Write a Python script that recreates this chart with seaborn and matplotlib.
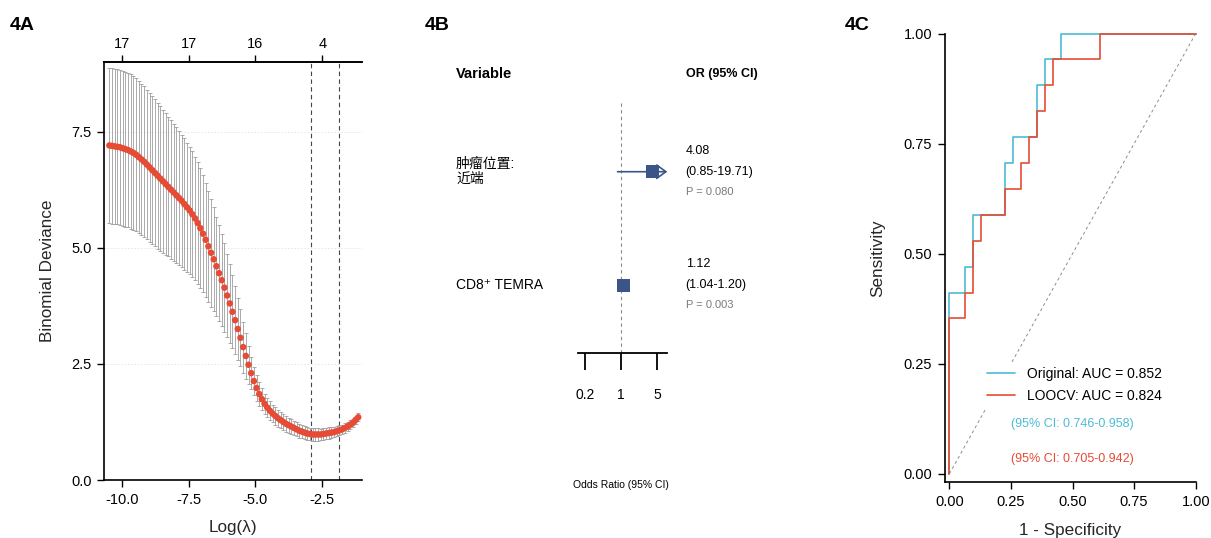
import numpy as np
import pandas as pd
import matplotlib
matplotlib.use("Agg")
import matplotlib.pyplot as plt
import matplotlib.transforms as mtransforms
import seaborn as sns

# ---------------- 4A: 10-fold CV deviance along the LASSO path ----------------
cv_mean = [
    7.20, 7.19, 7.18, 7.17, 7.16, 7.14, 7.12, 7.10, 7.07, 7.04,
    7.00, 6.95, 6.90, 6.85, 6.79, 6.73, 6.67, 6.61, 6.55, 6.49,
    6.43, 6.37, 6.31, 6.25, 6.19, 6.13, 6.07, 6.01, 5.94, 5.87,
    5.80, 5.72, 5.63, 5.53, 5.42, 5.30, 5.17, 5.03, 4.89, 4.75,
    4.60, 4.45, 4.30, 4.14, 3.97, 3.80, 3.62, 3.44, 3.25, 3.06,
    2.86, 2.67, 2.48, 2.30, 2.13, 1.98, 1.85, 1.74, 1.64, 1.56,
    1.49, 1.43, 1.38, 1.33, 1.29, 1.25, 1.21, 1.18, 1.15, 1.12,
    1.09, 1.06, 1.04, 1.02, 1.00, 0.99, 0.98, 0.98, 0.98, 0.98,
    0.99, 1.00, 1.01, 1.02, 1.03, 1.05, 1.07, 1.09, 1.12, 1.15,
    1.19, 1.23, 1.29, 1.35,
]
cv_se = [
    1.67, 1.67, 1.67, 1.67, 1.67, 1.67, 1.67, 1.66, 1.66, 1.66,
    1.65, 1.64, 1.63, 1.62, 1.61, 1.60, 1.59, 1.58, 1.57, 1.56,
    1.54, 1.52, 1.50, 1.49, 1.47, 1.46, 1.44, 1.42, 1.41, 1.39,
    1.37, 1.35, 1.33, 1.31, 1.29, 1.26, 1.23, 1.20, 1.16, 1.12,
    1.07, 1.03, 0.99, 0.95, 0.90, 0.85, 0.79, 0.73, 0.67, 0.61,
    0.55, 0.49, 0.41, 0.35, 0.31, 0.28, 0.26, 0.24, 0.22, 0.21,
    0.20, 0.19, 0.19, 0.18, 0.18, 0.17, 0.17, 0.16, 0.16, 0.15,
    0.15, 0.15, 0.14, 0.14, 0.14, 0.13, 0.13, 0.13, 0.13, 0.12,
    0.12, 0.12, 0.12, 0.11, 0.11, 0.11, 0.11, 0.10, 0.10, 0.10,
    0.10, 0.09, 0.09, 0.09,
]
log_lambda_first = -10.46
log_lambda_step = 0.10
log_lambda_min = -2.92
log_lambda_1se = -1.89
x_ticks_a = [-10.0, -7.5, -5.0, -2.5]
n_nonzero_labels = ["17", "17", "16", "4"]
y_ticks_a = [0.0, 2.5, 5.0, 7.5]

# ---------------- 4B: multivariable logistic regression ----------------
variables = ["肿瘤位置:\n近端", "CD8⁺ TEMRA"]
odds_ratio = [4.08, 1.12]
ci_lower = [0.85, 1.04]
ci_upper = [19.71, 1.20]
p_values = ["0.080", "0.003"]
or_ticks = [0.2, 1, 5]
or_tick_labels = ["0.2", "1", "5"]

# ---------------- 4C: ROC curves (counts of FP / TP at each step) ----------------
n_negative, n_positive = 31, 17
orig_fp = [0, 0, 2, 2, 3, 3, 7, 7, 8, 8, 11, 11, 12, 12, 14, 14, 31]
orig_tp = [0, 7, 7, 8, 8, 10, 10, 12, 12, 13, 13, 15, 15, 16, 16, 17, 17]
loocv_fp = [0, 0, 2, 2, 3, 3, 4, 4, 7, 7, 9, 9, 10, 10, 11, 11, 12, 12, 13, 13, 19, 19, 31]
loocv_tp = [0, 6, 6, 7, 7, 9, 9, 10, 10, 11, 11, 12, 12, 13, 13, 14, 14, 15, 15, 16, 16, 17, 17]
auc_values = {"Original": 0.852, "LOOCV": 0.824}
auc_ci = {"Original": (0.746, 0.958), "LOOCV": (0.705, 0.942)}
roc_ticks = [0.0, 0.25, 0.5, 0.75, 1.0]

RED = "#E64B35"
BLUE = "#4DBBD5"
NAVY = "#3C5488"

sns.set_theme(style="white")
plt.rcParams["font.family"] = ["Liberation Sans", "DejaVu Sans", "Noto Sans CJK SC"]
plt.rcParams["axes.edgecolor"] = "black"
plt.rcParams["text.color"] = "black"
plt.rcParams["xtick.color"] = "black"
plt.rcParams["ytick.color"] = "black"

W, H = 1211, 538
fig = plt.figure(figsize=(W / 100, H / 100), dpi=100)


def fx(px):
    return px / W


def fy(py):
    return 1 - py / H


def axes_rect(left, top, right, bottom):
    return [fx(left), fy(bottom), fx(right) - fx(left), fy(top) - fy(bottom)]


# ======================= 4A =======================
axA = fig.add_axes(axes_rect(104.3, 61.8, 361.7, 480))
log_lambda = log_lambda_first + log_lambda_step * np.arange(len(cv_mean))
cv_df = pd.DataFrame({"loglam": log_lambda, "deviance": cv_mean, "se": cv_se})

axA.set_axisbelow(True)
axA.yaxis.grid(True, color="#e4e4e4", linestyle=(0, (2, 2)), linewidth=0.6)
axA.errorbar(cv_df["loglam"], cv_df["deviance"], yerr=cv_df["se"], fmt="none",
             ecolor="#9c9c9c", elinewidth=0.6, capsize=1.1, capthick=0.6, zorder=2)
sns.scatterplot(data=cv_df, x="loglam", y="deviance", color=RED, s=22,
                edgecolor="none", linewidth=0, ax=axA, zorder=3)
for v in (log_lambda_min, log_lambda_1se):
    axA.axvline(v, color="#444444", linestyle=(0, (4, 3)), linewidth=0.8, zorder=1)

axA.set_xlim(-10.65, -1.03)
axA.set_ylim(0, 9.0)
axA.set_xticks(x_ticks_a, labels=[f"{t:.1f}" for t in x_ticks_a])
axA.set_yticks(y_ticks_a, labels=[f"{t:.1f}" for t in y_ticks_a])
axA.tick_params(axis="both", direction="out", length=5, width=1.0, labelsize=10.5,
                pad=4, bottom=True, left=True)
for s in ("left", "bottom", "top"):
    axA.spines[s].set_linewidth(1.2)
axA.spines["right"].set_visible(False)
axA.set_xlabel("Log(λ)", fontsize=12.3, labelpad=10)
axA.set_ylabel("Binomial Deviance", fontsize=12.3, labelpad=12)

topA = axA.secondary_xaxis("top")
topA.set_xticks(x_ticks_a, labels=n_nonzero_labels)
topA.tick_params(direction="out", length=5, width=1.0, labelsize=10.5, pad=3, top=True)
topA.spines["top"].set_linewidth(1.2)

fig.text(fx(10), fy(25), "4A", fontsize=14, fontweight="bold", va="center", ha="left")

# ======================= 4B =======================
axB = fig.add_axes(axes_rect(578, 103, 667.3, 353))
axB.set_xscale("log")
axB.set_xlim(0.146, 7.82)
axB.set_ylim(0.404, 2.605)
row_y = [2, 1]
forest_df = pd.DataFrame({"variable": variables, "OR": odds_ratio, "row": row_y})

axB.axvline(1, color="#8a8a8a", linestyle=(0, (3, 3)), linewidth=0.8, zorder=1)
x_max = axB.get_xlim()[1]
for lo, hi, y in zip(ci_lower, ci_upper, row_y):
    if hi > x_max:
        axB.annotate("", xy=(x_max, y), xytext=(lo, y),
                     arrowprops=dict(arrowstyle="->,head_length=0.55,head_width=0.4",
                                     color=NAVY, lw=1.2, shrinkA=0, shrinkB=0),
                     annotation_clip=False, zorder=4)
    else:
        axB.plot([lo, hi], [y, y], color=NAVY, lw=1.2, zorder=2)
sns.scatterplot(data=forest_df, x="OR", y="row", marker="s", s=95, color=NAVY,
                edgecolor="none", linewidth=0, ax=axB, zorder=3, clip_on=False)

for s in ("left", "right", "top"):
    axB.spines[s].set_visible(False)
axB.spines["bottom"].set_linewidth(1.3)
axB.set_xticks(or_ticks, labels=or_tick_labels)
axB.xaxis.set_minor_locator(matplotlib.ticker.NullLocator())
axB.tick_params(axis="x", direction="out", length=12, width=1.3, labelsize=10, pad=13,
                bottom=True, color="black")
axB.set_yticks([])
axB.set_xlabel("")
axB.set_ylabel("")

row_tf = mtransforms.blended_transform_factory(fig.transFigure, axB.transData)
fig.text(fx(456), fy(74.3), "Variable", fontsize=10.5, fontweight="bold", va="center")
fig.text(fx(685.7), fy(74.3), "OR (95% CI)", fontsize=9, fontweight="bold", va="center")
for name, orv, lo, hi, p, y in zip(variables, odds_ratio, ci_lower, ci_upper, p_values, row_y):
    fig.text(fx(456), y, name, transform=row_tf, fontsize=10, va="center", linespacing=1.05)
    fig.text(fx(685.7), y, f"{orv:.2f}",
             transform=mtransforms.offset_copy(row_tf, fig=fig, y=21 * 0.72, units="points"),
             fontsize=9, va="center")
    fig.text(fx(685.7), y, f"({lo:.2f}-{hi:.2f})", transform=row_tf, fontsize=9, va="center")
    fig.text(fx(685.7), y, f"P = {p}",
             transform=mtransforms.offset_copy(row_tf, fig=fig, y=-20 * 0.72, units="points"),
             fontsize=8, va="center", color="#7a7a7a")
fig.text(fx(620.7), fy(485), "Odds Ratio (95% CI)", fontsize=7.5, ha="center", va="center")
fig.text(fx(425), fy(25), "4B", fontsize=14, fontweight="bold", va="center", ha="left")

# ======================= 4C =======================
axC = fig.add_axes(axes_rect(944.7, 33.6, 1195.7, 482.2))
roc_df = pd.concat([
    pd.DataFrame({"fpr": np.array(orig_fp) / n_negative, "tpr": np.array(orig_tp) / n_positive,
                  "model": "Original"}),
    pd.DataFrame({"fpr": np.array(loocv_fp) / n_negative, "tpr": np.array(loocv_tp) / n_positive,
                  "model": "LOOCV"}),
], ignore_index=True)

axC.plot([0, 1], [0, 1], color="#8c8c8c", linestyle=(0, (3, 3)), linewidth=0.7, zorder=1)
sns.lineplot(data=roc_df, x="fpr", y="tpr", hue="model", hue_order=["Original", "LOOCV"],
             estimator=None, sort=False, palette={"Original": BLUE, "LOOCV": RED},
             linewidth=1.2, legend=False, ax=axC, zorder=3)
for ln in axC.get_lines():
    ln.set_clip_on(False)

axC.set_xlim(-0.019, 1.0)
axC.set_ylim(-0.019, 1.0)
axC.set_xticks(roc_ticks, labels=[f"{t:.2f}" for t in roc_ticks])
axC.set_yticks(roc_ticks, labels=[f"{t:.2f}" for t in roc_ticks])
axC.tick_params(axis="both", direction="out", length=5, width=1.0, labelsize=10.5, pad=4,
                bottom=True, left=True)
for s in ("left", "bottom"):
    axC.spines[s].set_linewidth(1.2)
for s in ("top", "right"):
    axC.spines[s].set_visible(False)
axC.set_xlabel("1 - Specificity", fontsize=12.3, labelpad=10)
axC.set_ylabel("Sensitivity", fontsize=12.3, labelpad=13)

handles = [matplotlib.lines.Line2D([], [], color=BLUE, lw=1.2),
           matplotlib.lines.Line2D([], [], color=RED, lw=1.2)]
labels = [f"{m}: AUC = {auc_values[m]:.3f}" for m in ("Original", "LOOCV")]
leg = axC.legend(handles, labels, loc="center left", bbox_to_anchor=(0.149, 0.217),
                 frameon=True, facecolor="white", edgecolor="none", framealpha=1,
                 fontsize=10, handlelength=2.0, handletextpad=0.85, labelspacing=0.6,
                 borderpad=0.35, borderaxespad=0)
leg.set_zorder(4)
for m, y, c in (("Original", 0.114, BLUE), ("LOOCV", 0.034, RED)):
    lo, hi = auc_ci[m]
    axC.text(0.5, y, f"(95% CI: {lo:.3f}-{hi:.3f})", color=c, fontsize=9,
             ha="center", va="center", zorder=5)
fig.text(fx(845), fy(25), "4C", fontsize=14, fontweight="bold", va="center", ha="left")

fig.savefig("out.png", dpi=100)
